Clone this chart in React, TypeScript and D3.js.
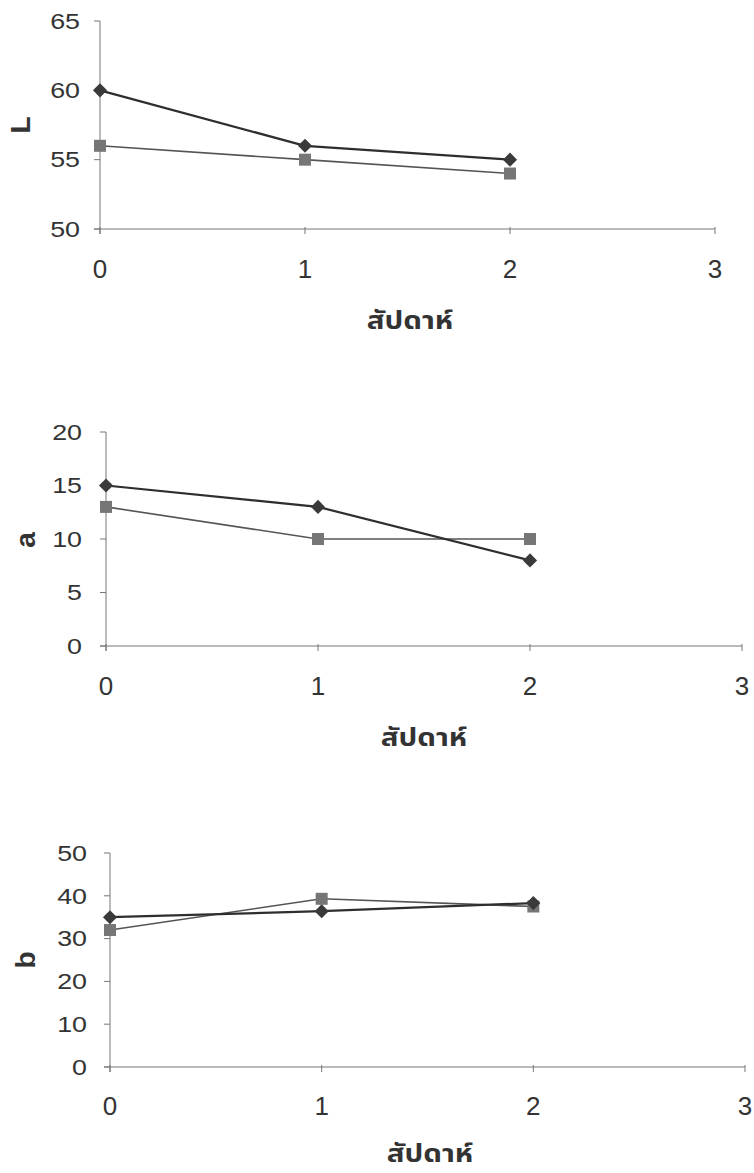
import React from "react";
import * as d3 from "d3";

const weeks = [0, 1, 2];
const xTicks = [0, 1, 2, 3];

const lDiamond = [60, 56, 55];
const lSquare = [56, 55, 54];
const lTicks = [50, 55, 60, 65];

const aDiamond = [15, 13, 8];
const aSquare = [13, 10, 10];
const aTicks = [0, 5, 10, 15, 20];

const bDiamond = [35, 36.4, 38.3];
const bSquare = [32, 39.3, 37.5];
const bTicks = [0, 10, 20, 30, 40, 50];

const xTitle = "สัปดาห์";

const font = "'Liberation Sans', Arial, sans-serif";

function SText(props: {
  x: number;
  y: number;
  anchor: "start" | "middle" | "end";
  size: number;
  sx?: number;
  family?: string;
  weight?: string;
  rotate?: number;
  children: React.ReactNode;
}) {
  const sx = props.sx ?? 1;
  const rot = props.rotate ? ` rotate(${props.rotate})` : "";
  return (
    <text
      transform={`translate(${props.x},${props.y})${rot} scale(${sx},1)`}
      dy="0.35em"
      textAnchor={props.anchor}
      fontFamily={props.family ?? font}
      fontWeight={props.weight ?? "normal"}
      fontSize={props.size}
      fill="#333"
    >
      {props.children}
    </text>
  );
}

type PanelProps = {
  label: string;
  diamond: number[];
  square: number[];
  yTicks: number[];
  x0: number;
  x3: number;
  yTop: number;
  yBottom: number;
  tickLabelY: number;
  titleX: number;
  titleY: number;
  labelX: number;
  labelY: number;
  yLabelRight: number;
};

function Panel(p: PanelProps) {
  const x = d3.scaleLinear().domain([0, 3]).range([p.x0, p.x3]);
  const y = d3
    .scaleLinear()
    .domain([p.yTicks[0], p.yTicks[p.yTicks.length - 1]])
    .range([p.yBottom, p.yTop]);
  const line = d3
    .line<number>()
    .x((_, i) => x(weeks[i]))
    .y((d) => y(d));
  const diamondPath = d3.symbol(d3.symbolSquare, 100)()!;
  return (
    <g>
      <line x1={p.x0} x2={p.x0} y1={p.yTop} y2={p.yBottom + 5} stroke="#777" strokeWidth={1} />
      <line x1={p.x0 - 6} x2={p.x3} y1={p.yBottom} y2={p.yBottom} stroke="#777" strokeWidth={1} />
      {p.yTicks.map((t) => (
        <g key={"y" + t}>
          <line x1={p.x0 - 6} x2={p.x0} y1={y(t)} y2={y(t)} stroke="#777" />
          <SText x={p.yLabelRight} y={y(t)} anchor="end" size={22} sx={1.22}>
            {t}
          </SText>
        </g>
      ))}
      {xTicks.map((t) => (
        <g key={"x" + t}>
          <line x1={x(t)} x2={x(t)} y1={p.yBottom - 2} y2={p.yBottom + 5} stroke="#777" />
          <SText x={x(t)} y={p.tickLabelY} anchor="middle" size={26}>
            {t}
          </SText>
        </g>
      ))}
      <SText
        x={p.titleX}
        y={p.titleY}
        anchor="middle"
        size={25}
        sx={1.18}
        weight="bold"
        family="'Noto Sans Thai', 'Noto Sans', 'DejaVu Sans', sans-serif"
      >
        {xTitle}
      </SText>
      <SText x={p.labelX} y={p.labelY} anchor="middle" size={28} rotate={-90} weight="bold">
        {p.label}
      </SText>
      <path d={line(p.square) || ""} fill="none" stroke="#555" strokeWidth={1.6} />
      <path d={line(p.diamond) || ""} fill="none" stroke="#2e2e2e" strokeWidth={2.2} />
      {p.square.map((v, i) => (
        <rect
          key={"s" + i}
          x={x(weeks[i]) - 6}
          y={y(v) - 6}
          width={12}
          height={12}
          fill="#767676"
        />
      ))}
      {p.diamond.map((v, i) => (
        <path
          key={"d" + i}
          d={diamondPath}
          transform={`translate(${x(weeks[i])},${y(v)}) rotate(45)`}
          fill="#3a3a3a"
        />
      ))}
    </g>
  );
}

export default function App() {
  return (
    <svg
      width={754}
      height={1173}
      style={{ display: "block", position: "absolute", left: 0, top: 0, background: "#fff" }}
    >
      <rect width={754} height={1173} fill="#fff" />
      <Panel
        label="L"
        diamond={lDiamond}
        square={lSquare}
        yTicks={lTicks}
        x0={100}
        x3={715}
        yTop={21}
        yBottom={229}
        tickLabelY={269}
        titleX={410}
        titleY={320}
        labelX={20}
        labelY={125}
        yLabelRight={80}
      />
      <Panel
        label="a"
        diamond={aDiamond}
        square={aSquare}
        yTicks={aTicks}
        x0={106}
        x3={742}
        yTop={432}
        yBottom={646}
        tickLabelY={686}
        titleX={424}
        titleY={737}
        labelX={25}
        labelY={540}
        yLabelRight={82}
      />
      <Panel
        label="b"
        diamond={bDiamond}
        square={bSquare}
        yTicks={bTicks}
        x0={110}
        x3={745}
        yTop={853}
        yBottom={1067}
        tickLabelY={1106}
        titleX={430}
        titleY={1153}
        labelX={25}
        labelY={960}
        yLabelRight={87}
      />
    </svg>
  );
}
